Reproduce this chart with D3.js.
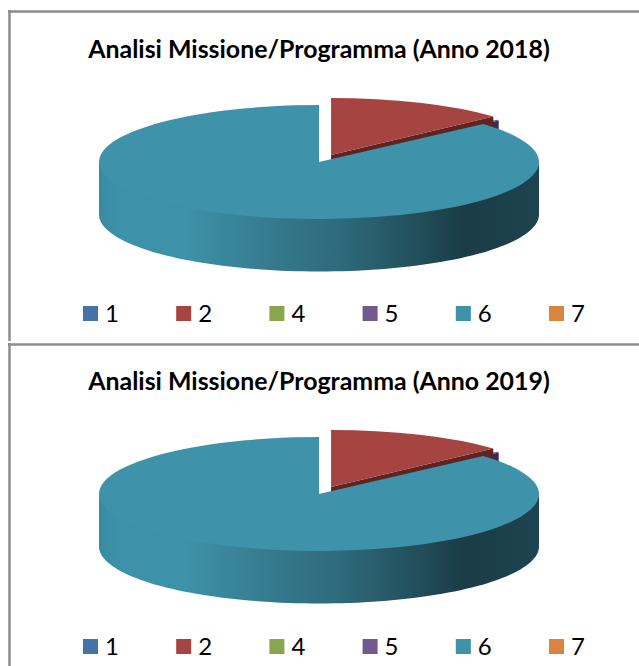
<!DOCTYPE html>
<html>
<head>
<meta charset="utf-8">
<script src="https://cdn.jsdelivr.net/npm/d3@7"></script>
<style>
    html, body { margin: 0; padding: 0; background: #fff; }
    svg { display: block; }
    text { font-family: Lato, "Open Sans", sans-serif; fill: #000; }
</style>
</head>
<body>
<div id="chart-container"></div>
<script>

var categories = ["1", "2", "4", "5", "6", "7"];
var colors = ["#4572a7", "#a64441", "#89a54e", "#71588f", "#3e92aa", "#db843d"];
var cutColors = ["#2b4566", "#5e2422", "#4f5f2c", "#3a2c50", "#1a3c47", "#7d4a20"];
var values2018 = [0, 13.2, 0, 0.2, 86.6, 0];
var values2019 = [0, 13.2, 0, 0.2, 86.6, 0];
var titles = ["Analisi Missione/Programma (Anno 2018)", "Analisi Missione/Programma (Anno 2019)"];

// how far each slice is pulled out of the pie, in px along the long axis
var explode = [0, 30, 0, 21, 0, 0];

var width = 639, height = 666;
var rx = 220, ry = 57, depth = 52.5;
var cx = 319;

var svg = d3.select("#chart-container")
    .append("svg")
    .attr("width", width)
    .attr("height", height);

var sideGradient = svg.append("defs")
    .append("linearGradient")
    .attr("id", "side")
    .attr("gradientUnits", "userSpaceOnUse")
    .attr("x1", cx - rx)
    .attr("x2", cx + rx)
    .attr("y1", 0)
    .attr("y2", 0);

sideGradient.selectAll("stop")
    .data([
        [0, "#398aa1"], [0.04, "#3d91a9"], [0.2, "#3d91a9"], [0.4, "#35798c"],
        [0.55, "#2e6a7b"], [0.7, "#24525f"], [0.83, "#1a3c47"], [1, "#1d4450"]
    ])
    .enter()
    .append("stop")
    .attr("offset", function (d) { return d[0]; })
    .attr("stop-color", function (d) { return d[1]; });

var pie = d3.pie().sort(null);
var arc = d3.arc().innerRadius(0).outerRadius(rx);
var ratio = ry / rx;

var rimPoint = function (c, a) {
    return [c[0] + rx * Math.sin(a), c[1] - ry * Math.cos(a)];
};

var drawPie = function (g, values, cy) {
    var slices = pie(values);

    slices.forEach(function (d, i) {
        d.i = i;
        var mid = (d.startAngle + d.endAngle) / 2;
        d.center = [cx + explode[i] * Math.sin(mid), cy - explode[i] * ratio * Math.cos(mid)];
    });

    var drawn = slices.filter(function (d) { return d.value > 0; });

    // back slices first, the big one goes on top
    drawn.sort(function (a, b) { return b.i === 3 ? 1 : (a.i === 3 ? -1 : a.i - b.i); });

    drawn.forEach(function (d) {
        var c = d.center;

        if (d.endAngle < Math.PI) {
            var r = rimPoint(c, d.endAngle);
            g.append("path")
                .attr("d", d3.line()([c, r, [r[0], r[1] + depth], [c[0], c[1] + depth]]))
                .attr("fill", cutColors[d.i]);
        }

        if (d.endAngle > Math.PI / 2) {
            var angles = d3.range(91).map(function (k) {
                return Math.PI / 2 + k * Math.PI / 90;
            });
            var rim = angles.map(function (a) { return rimPoint(c, a); });
            var under = rim.slice().reverse().map(function (p) { return [p[0], p[1] + depth]; });
            // start the wall 2px up so no light seam shows under the top face
            var over = rim.map(function (p) { return [p[0], p[1] - 2]; });
            g.append("path")
                .attr("d", d3.line()(over.concat(under)))
                .attr("fill", "url(#side)");
        }

        g.append("path")
            .attr("d", arc(d))
            .attr("transform", "translate(" + c[0] + "," + c[1] + ") scale(1," + ratio + ")")
            .attr("fill", colors[d.i]);
    });
};

var drawLegend = function (g, y) {
    var x = d3.scalePoint()
        .domain(categories)
        .range([83, 549]);

    var items = g.selectAll("g.item")
        .data(categories)
        .enter()
        .append("g")
        .attr("class", "item")
        .attr("transform", function (d) { return "translate(" + x(d) + "," + y + ")"; });

    items.append("rect")
        .attr("width", 15)
        .attr("height", 15)
        .attr("fill", function (d, i) { return colors[i]; });

    items.append("text")
        .attr("x", 22)
        .attr("y", 16)
        .style("font-size", "24px")
        .text(function (d) { return d; });
};

var drawFrame = function (g) {
    var lines = [
        [9.5, 10, 9.5, 341],
        [8, 11.5, width, 11.5],
        [8, 344.5, width, 344.5],
        [9.5, 343, 9.5, height]
    ];
    g.selectAll("line")
        .data(lines)
        .enter()
        .append("line")
        .attr("x1", function (d) { return d[0]; })
        .attr("y1", function (d) { return d[1]; })
        .attr("x2", function (d) { return d[2]; })
        .attr("y2", function (d) { return d[3]; })
        .attr("stroke", "#8c8c8c")
        .attr("stroke-width", 2.5);
};

drawFrame(svg.append("g"));

[values2018, values2019].forEach(function (values, n) {
    var off = n * 332;
    var g = svg.append("g");

    g.append("text")
        .attr("x", cx)
        .attr("y", 58 + off)
        .attr("text-anchor", "middle")
        .style("font-size", "24.9px")
        .style("font-weight", "700")
        .text(titles[n]);

    drawPie(g, values, 162 + off);
    drawLegend(g, n === 0 ? 306 : 639);
});

</script>
</body>
</html>
